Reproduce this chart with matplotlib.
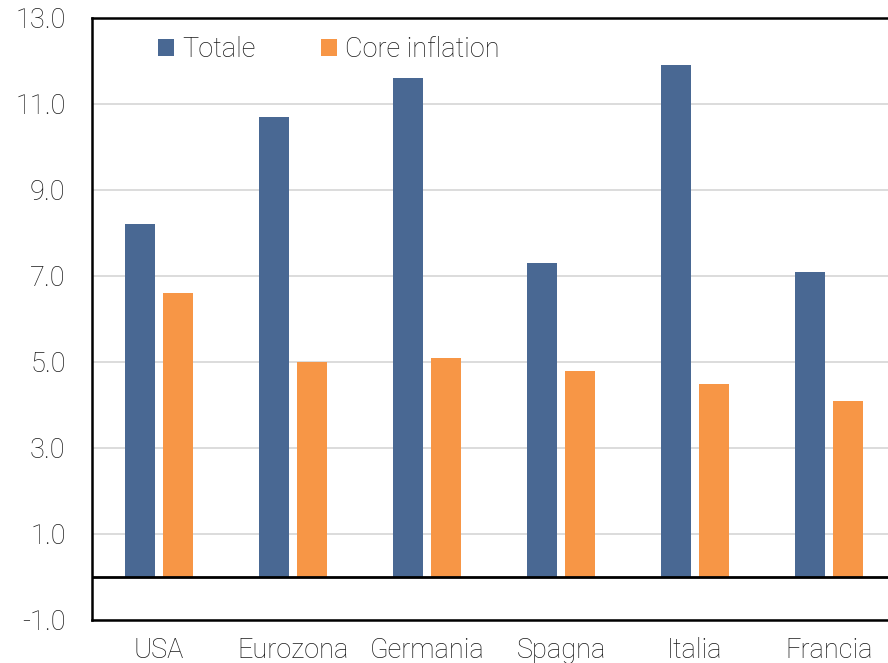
import matplotlib
matplotlib.use("Agg")
import matplotlib.pyplot as plt
import numpy as np

# Inflazione: totale vs core (%)
paesi = ["USA", "Eurozona", "Germania", "Spagna", "Italia", "Francia"]
totale = [8.2, 10.7, 11.6, 7.3, 11.9, 7.1]
core = [6.6, 5.0, 5.1, 4.8, 4.5, 4.1]
yticks = [-1.0, 1.0, 3.0, 5.0, 7.0, 9.0, 11.0, 13.0]

BLU = "#496893"
ARANCIO = "#F79646"
FS = 19.5

plt.rcParams["font.family"] = ["Roboto", "DejaVu Sans"]
plt.rcParams["font.weight"] = "light"

fig = plt.figure(figsize=(8.88, 6.63), dpi=100)
ax = fig.add_axes([92 / 888, 43 / 663, 804 / 888, 602 / 663])

x = np.arange(len(paesi))
w = 0.224
ax.bar(x - 0.142, totale, w, color=BLU, label="Totale", zorder=3)
ax.bar(x + 0.142, core, w, color=ARANCIO, label="Core inflation", zorder=3)

ax.set_xlim(-0.5, len(paesi) - 0.5)
ax.set_ylim(-1, 13)
ax.set_yticks(yticks)
ax.set_yticklabels([f"{v:.1f}" for v in yticks])
ax.set_xticks(x)
ax.set_xticklabels(paesi)
ax.tick_params(axis="both", length=0, labelsize=FS, colors="#1a1a1a")
ax.tick_params(axis="y", pad=19)
ax.tick_params(axis="x", pad=12)

ax.grid(axis="y", color="#D9D9D9", linewidth=1.3, zorder=0)
ax.axhline(0, color="black", linewidth=2, zorder=4)

for s in ["left", "top", "bottom"]:
    ax.spines[s].set_color("black")
    ax.spines[s].set_linewidth(1.8)
ax.spines["right"].set_visible(False)

leg = ax.legend(loc="center left", bbox_to_anchor=(0.082, 0.947), ncol=2, frameon=False,
                fontsize=FS, handlelength=0.6, handleheight=0.6, handletextpad=0.3,
                columnspacing=2.4, borderpad=0, borderaxespad=0)
for t in leg.get_texts():
    t.set_color("#1a1a1a")

fig.savefig("out.png", dpi=100)
